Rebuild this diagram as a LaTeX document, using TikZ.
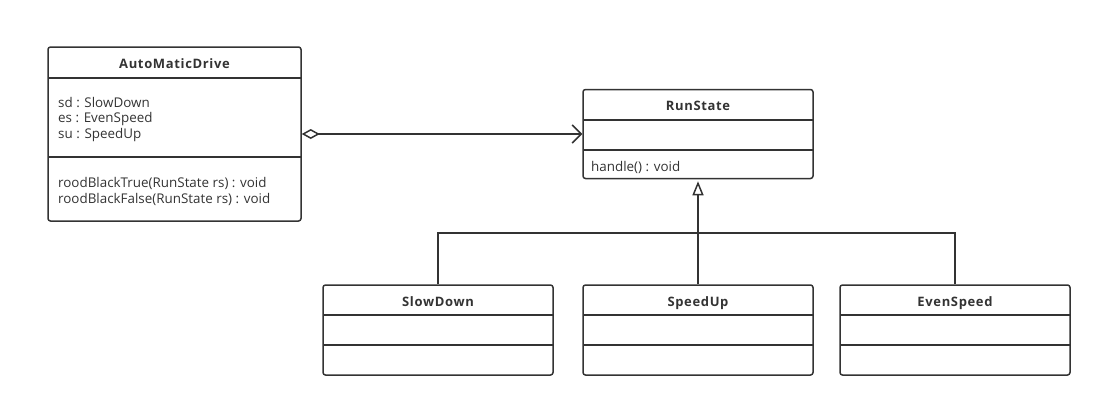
\documentclass[tikz,border=0pt]{standalone}
\usepackage{fontspec}
\setmainfont{Open Sans}
\newfontfamily\hdfont[LetterSpace=5]{Open Sans}
\usetikzlibrary{arrows.meta}
\definecolor{ink}{HTML}{333333}
\tikzset{
  cls/.style={draw=ink, line width=1.5pt, rounded corners=2.5pt, inner sep=0pt, fill=none},
  sep/.style={draw=ink, line width=1.5pt},
  conn/.style={draw=ink, line width=1.5pt},
  hdr/.style={anchor=base, inner sep=0pt, text=ink, font=\hdfont\bfseries\fontsize{13}{15}\selectfont},
  txt/.style={anchor=base west, inner sep=0pt, text=ink, font=\fontsize{13.4}{15}\selectfont},
}
\begin{document}
\begin{tikzpicture}[x=1pt,y=-1pt]
\useasboundingbox (0,0) rectangle (1101,407);
% AutoMaticDrive
\node[cls, minimum width=253pt, minimum height=174pt] (ad) at (174.5,134) {};
\node[hdr] (adh) at (174.5,68) {AutoMaticDrive};
\draw[sep] (48,78) -- (301,78);
\draw[sep] (48,157) -- (301,157);
\node[txt] (a1) at (58,107) {sd : SlowDown};
\node[txt] (a2) at (58,122.5) {es : EvenSpeed};
\node[txt] (a3) at (58,138) {su : SpeedUp};
\node[txt] (m1) at (58,187.5) {roodBlackTrue(RunState rs) : void};
\node[txt] (m2) at (58,203) {roodBlackFalse(RunState rs) : void};
% RunState
\node[cls, minimum width=230pt, minimum height=89pt] (rs) at (698,134) {};
\node[hdr] (rsh) at (698,110) {RunState};
\draw[sep] (583,120) -- (813,120);
\draw[sep] (583,150) -- (813,150);
\node[txt] (rsm) at (591,171) {handle() : void};
% SlowDown
\node[cls, minimum width=230pt, minimum height=90pt] (sd) at (438,330) {};
\node[hdr] (sdh) at (438,306) {SlowDown};
\draw[sep] (323,315) -- (553,315);
\draw[sep] (323,345) -- (553,345);
% SpeedUp
\node[cls, minimum width=230pt, minimum height=90pt] (su) at (698,330) {};
\node[hdr] (suh) at (698,306) {SpeedUp};
\draw[sep] (583,315) -- (813,315);
\draw[sep] (583,345) -- (813,345);
% EvenSpeed
\node[cls, minimum width=230pt, minimum height=90pt] (es) at (955,330) {};
\node[hdr] (esh) at (955,306) {EvenSpeed};
\draw[sep] (840,315) -- (1070,315);
\draw[sep] (840,345) -- (1070,345);
% connectors
\coordinate (j) at (698,233);
\draw[conn, {Diamond[open, length=18pt, width=10pt, line width=1.5pt]}-{Straight Barb[length=9pt, width=18pt, line width=1.5pt]}] (ad.east) -- (rs.west);
\draw[conn] (sd.north) |- (j);
\draw[conn] (es.north) |- (j);
\draw[conn, -{Triangle[open, length=14pt, width=11pt, line width=1.5pt]}] (su.north) -- ([yshift=-2pt]rs.south);
\end{tikzpicture}
\end{document}
